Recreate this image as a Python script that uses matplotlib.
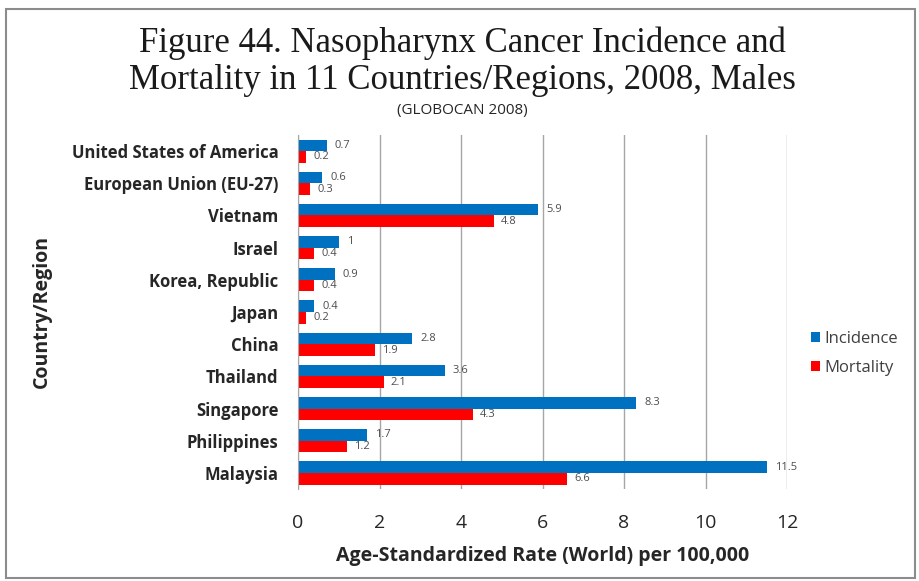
import matplotlib.pyplot as plt
import numpy as np
from matplotlib.patches import Rectangle

countries = ["United States of America", "European Union (EU-27)", "Vietnam", "Israel",
             "Korea, Republic", "Japan", "China", "Thailand", "Singapore", "Philippines", "Malaysia"]
incidence = [0.7, 0.6, 5.9, 1.0, 0.9, 0.4, 2.8, 3.6, 8.3, 1.7, 11.5]
mortality = [0.2, 0.3, 4.8, 0.4, 0.4, 0.2, 1.9, 2.1, 4.3, 1.2, 6.6]
inc_labels = ["0.7", "0.6", "5.9", "1", "0.9", "0.4", "2.8", "3.6", "8.3", "1.7", "11.5"]
mort_labels = ["0.2", "0.3", "4.8", "0.4", "0.4", "0.2", "1.9", "2.1", "4.3", "1.2", "6.6"]

fig = plt.figure(figsize=(9.19, 5.81), dpi=100)
fig.patches.append(Rectangle((0.006, 0.005), 0.99, 0.98, transform=fig.transFigure,
                             fill=False, edgecolor="#8c8c8c", linewidth=1.5))

ax = fig.add_axes([0.3243, 0.1583, 0.5321, 0.6093])

y = np.arange(len(countries))
h = 0.36
ax.barh(y - h / 2, incidence, height=h, color="#0070C0", label="Incidence")
ax.barh(y + h / 2, mortality, height=h, color="#FF0000", label="Mortality")

for i in range(len(countries)):
    ax.text(incidence[i] + 0.2, y[i] - h / 2, inc_labels[i], fontsize=8,
            color="#4d4d4d", va="center", family="Open Sans")
    ax.text(mortality[i] + 0.17, y[i] + h / 2, mort_labels[i], fontsize=8,
            color="#4d4d4d", va="center", family="Open Sans")

ax.set_ylim(len(countries) - 0.5, -0.5)
ax.set_xlim(0, 12)
ax.set_xticks(range(0, 13, 2))
ax.set_yticks(y)
ax.set_yticklabels(countries, fontsize=12, fontweight="bold", family="Open Sans",
                   color="#262626")
for lab in ax.get_xticklabels():
    lab.set_fontsize(14)
    lab.set_family("Open Sans")
    lab.set_color("#262626")
ax.tick_params(axis="y", length=0, pad=14)
ax.tick_params(axis="x", length=0, pad=18)
ax.grid(axis="x", color="#a6a6a6", linewidth=1)
ax.set_axisbelow(True)
for s in ["top", "right", "bottom"]:
    ax.spines[s].set_visible(False)
ax.spines["left"].set_color("#a6a6a6")

ax.set_xlabel("Age-Standardized Rate (World) per 100,000", fontsize=14,
              fontweight="bold", family="Open Sans", labelpad=10, color="#262626")
fig.text(0.046, 0.463, "Country/Region", rotation=90, fontsize=14, fontweight="bold",
         family="Open Sans", ha="center", va="center", color="#262626")

fig.text(0.503, 0.926, "Figure 44. Nasopharynx Cancer Incidence and", fontsize=25,
         family="Liberation Serif", ha="center", va="center", color="#1a1a1a")
fig.text(0.503, 0.861, "Mortality in 11 Countries/Regions, 2008, Males", fontsize=25,
         family="Liberation Serif", ha="center", va="center", color="#1a1a1a")
fig.text(0.503, 0.81, "(GLOBOCAN 2008)", fontsize=11, family="Open Sans",
         ha="center", va="center", color="#262626")

fig.legend(loc="center left", bbox_to_anchor=(0.882, 0.392), frameon=False,
           prop={"family": "Open Sans", "size": 12}, handlelength=0.55, handleheight=0.55,
           handletextpad=0.25, labelspacing=0.8, borderpad=0, borderaxespad=0,
           labelcolor="#404040")

fig.savefig("out.png", dpi=100)
